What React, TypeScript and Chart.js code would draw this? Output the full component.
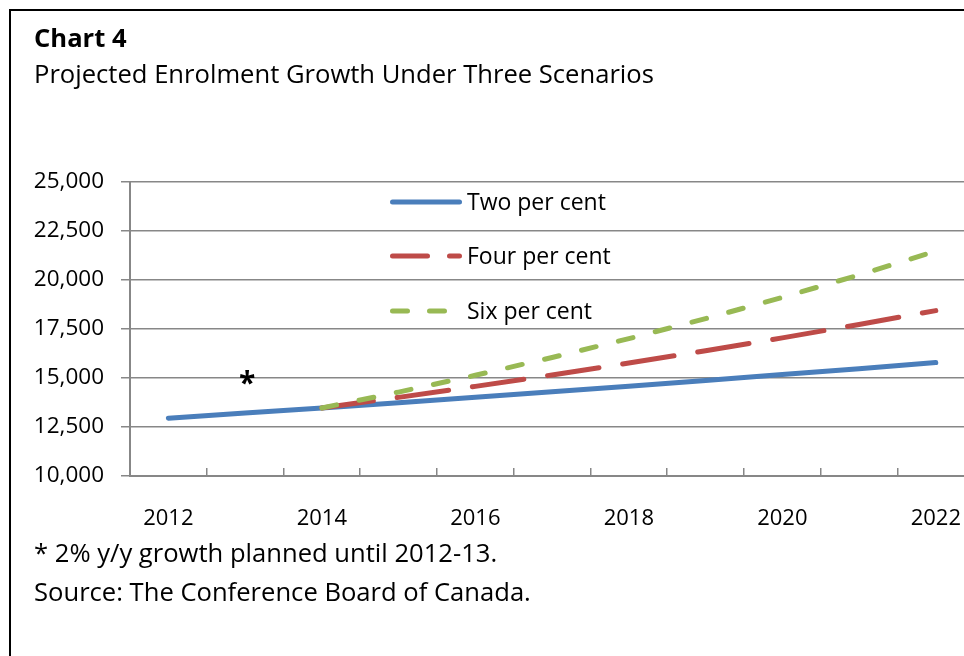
import React, { useEffect, useRef } from 'react';
import { Chart, registerables } from 'chart.js';

Chart.register(...registerables);

// ---- Data ----
const years = ['2012', '2013', '2014', '2015', '2016', '2017', '2018', '2019', '2020', '2021', '2022'];
const labelledYears = ['2012', '2014', '2016', '2018', '2020', '2022'];
const twoPerCent = [12950, 13209, 13473, 13743, 14018, 14298, 14584, 14876, 15173, 15477, 15786];
const fourPerCent = [null, null, 13473, 14012, 14572, 15155, 15761, 16392, 17048, 17730, 18439];
const sixPerCent = [null, null, 13473, 14281, 15138, 16047, 17009, 18030, 19112, 20258, 21474];
const seriesNames = ['Two per cent', 'Four per cent', 'Six per cent'];
const yTickValues = [10000, 12500, 15000, 17500, 20000, 22500, 25000];
const noteYear = '2013';
const noteValue = 15000;
const noteText = '*';

const titleText = 'Chart 4';
const subtitleText = 'Projected Enrolment Growth Under Three Scenarios';
const footnoteText = '* 2% y/y growth planned until 2012-13.';
const sourceText = 'Source: The Conference Board of Canada.';

// ---- Styles ----
const FONT = '"Open Sans", sans-serif';
const GRID = '#878787';
const BLUE = '#4A7EBB';
const RED = '#BE4B48';
const GREEN = '#98B954';
const LINE_W = 5;
const RED_DASH = [52, 24];
const GREEN_DASH = [15, 23];
const RED_LEGEND_DASH = [35, 22];
const GREEN_LEGEND_DASH = [15, 22];

const legendPlugin = {
  id: 'insideLegend',
  afterDraw(chart: any) {
    const ctx = chart.ctx;
    const rows = [
      { y: 202, color: BLUE, dash: [] as number[] },
      { y: 256, color: RED, dash: RED_LEGEND_DASH },
      { y: 311, color: GREEN, dash: GREEN_LEGEND_DASH },
    ];
    ctx.save();
    rows.forEach((r, i) => {
      ctx.beginPath();
      ctx.strokeStyle = r.color;
      ctx.lineWidth = LINE_W;
      ctx.lineCap = 'round';
      ctx.setLineDash(r.dash);
      ctx.moveTo(392.5, r.y);
      ctx.lineTo(459.5, r.y);
      ctx.stroke();
      ctx.setLineDash([]);
      ctx.fillStyle = '#000';
      ctx.font = `23px ${FONT}`;
      ctx.textAlign = 'left';
      ctx.textBaseline = 'alphabetic';
      ctx.fillText(chart.data.datasets[i].label, 467, r.y + 8);
    });
    // note marker
    const xs = chart.scales.x;
    const ys = chart.scales.y;
    const px = xs.getPixelForValue(years.indexOf(noteYear));
    const py = ys.getPixelForValue(noteValue);
    ctx.font = `bold 30px ${FONT}`;
    ctx.textAlign = 'center';
    ctx.fillText(noteText, px + 2, py + 15);
    ctx.restore();
  },
};

export default function App() {
  const canvasRef = useRef<HTMLCanvasElement | null>(null);

  useEffect(() => {
    if (!canvasRef.current) return;
    const chart = new Chart(canvasRef.current, {
      type: 'line',
      data: {
        labels: years,
        datasets: [
          {
            label: seriesNames[0],
            data: twoPerCent,
            borderColor: BLUE,
            borderWidth: LINE_W,
            borderCapStyle: 'round',
            pointRadius: 0,
            tension: 0,
            fill: false,
            order: 3,
          },
          {
            label: seriesNames[1],
            data: fourPerCent,
            borderColor: RED,
            borderWidth: LINE_W,
            borderCapStyle: 'round',
            borderDash: RED_DASH,
            pointRadius: 0,
            tension: 0,
            fill: false,
            order: 2,
          },
          {
            label: seriesNames[2],
            data: sixPerCent,
            borderColor: GREEN,
            borderWidth: LINE_W,
            borderCapStyle: 'round',
            borderDash: GREEN_DASH,
            pointRadius: 0,
            tension: 0,
            fill: false,
            order: 1,
          },
        ] as any,
      },
      options: {
        responsive: false,
        animation: false,
        events: [],
        layout: { padding: { left: 0, top: 182, right: 23, bottom: 120 } },
        plugins: {
          legend: { display: false },
          tooltip: { enabled: false },
        },
        scales: {
          x: {
            type: 'category',
            offset: true,
            grid: {
              offset: true,
              drawOnChartArea: false,
              drawTicks: true,
              tickLength: -8,
              color: GRID,
              lineWidth: 1.5,
            },
            border: { color: GRID, width: 2 },
            ticks: {
              autoSkip: false,
              maxRotation: 0,
              padding: 38,
              color: '#000',
              font: { family: FONT, size: 22 },
              callback: (_v: any, i: number) => (labelledYears.includes(years[i]) ? years[i] : ''),
            },
            afterFit: (s: any) => {
              s.height = 60;
            },
          },
          y: {
            min: yTickValues[0],
            max: yTickValues[yTickValues.length - 1],
            afterBuildTicks: (s: any) => {
              s.ticks = yTickValues.map((v) => ({ value: v }));
            },
            grid: { color: GRID, lineWidth: 1.5, tickLength: 9, drawTicks: true },
            border: { color: GRID, width: 2 },
            ticks: {
              padding: 17,
              color: '#000',
              font: { family: FONT, size: 22.5 },
              callback: (v: any) => Number(v).toLocaleString('en-US'),
            },
            afterFit: (s: any) => {
              s.width = 130;
            },
          },
        },
      } as any,
      plugins: [legendPlugin],
    });
    return () => chart.destroy();
  }, []);

  const textBase: React.CSSProperties = {
    position: 'absolute',
    left: 34,
    fontFamily: FONT,
    fontSize: 25.6,
    lineHeight: '26px',
    color: '#000',
    whiteSpace: 'nowrap',
  };

  return (
    <div style={{ position: 'fixed', left: 0, top: 0, width: 964, height: 656, overflow: 'hidden', background: '#fff' }}>
      <div style={{ position: 'absolute', left: 9, top: 9, width: 1100, height: 800, border: '2px solid #000' }} />
      <canvas ref={canvasRef} width={1000} height={656} style={{ position: 'absolute', left: 0, top: 0 }} />
      <div style={{ ...textBase, top: 25, fontWeight: 700 }}>{titleText}</div>
      <div style={{ ...textBase, top: 61 }}>{subtitleText}</div>
      <div style={{ ...textBase, top: 540 }}>{footnoteText}</div>
      <div style={{ ...textBase, top: 579 }}>{sourceText}</div>
    </div>
  );
}
